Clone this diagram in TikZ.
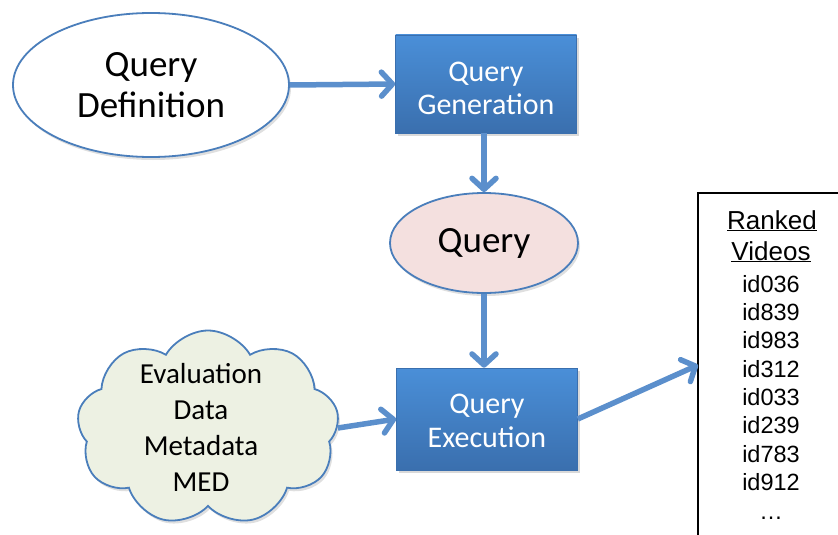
\documentclass[tikz,border=0pt]{standalone}
\usepackage{fontspec}
\setmainfont{Carlito}
\newfontfamily\arialf{Liberation Sans}
\usetikzlibrary{arrows.meta,shapes.geometric,shapes.symbols,shadows}
\definecolor{edgeblue}{HTML}{4A7EBB}
\definecolor{arrblue}{HTML}{5B8FCC}
\definecolor{boxtop}{HTML}{4A8FD8}
\definecolor{boxbot}{HTML}{3A6FAE}
\definecolor{pinkfill}{HTML}{F4E0DF}
\definecolor{greenfill}{HTML}{EDF1E3}
\newcommand{\ulhead}[1]{\underline{#1}}
\tikzset{
  flow/.style={draw=arrblue, line width=5.5pt, -{Straight Barb[length=11pt,width=24pt,round]}},
  procbox/.style={rectangle, draw=boxbot, line width=0.6pt, top color=boxtop, bottom color=boxbot,
    text=white, align=center, inner sep=0pt, font=\fontsize{30}{33}\selectfont,
    drop shadow={opacity=0.3, shadow xshift=2pt, shadow yshift=-3pt}},
  oval/.style={ellipse, draw=edgeblue, line width=1.8pt, inner sep=0pt, align=center,
    drop shadow={opacity=0.25, shadow xshift=2pt, shadow yshift=-3pt}},
  rlist/.style={font=\arialf\fontsize{23.5}{26}\selectfont, anchor=base},
  rhead/.style={font=\arialf\fontsize{26}{28}\selectfont, anchor=base}
}
\begin{document}
\begin{tikzpicture}[x=1pt,y=-1pt]
\useasboundingbox (0,0) rectangle (838,535);
% nodes
\node[oval, fill=white, minimum width=276pt, minimum height=144pt,
      font=\fontsize{37}{41}\selectfont] (def) at (151,85) {Query\\Definition};
\node[procbox, minimum width=181pt, minimum height=98pt] (gen) at (486,84) {};
\node[align=center, text=white, font=\fontsize{30}{33}\selectfont] (gentext) at (486,88) {Query\\Generation};
\node[oval, fill=pinkfill, minimum width=188pt, minimum height=100pt,
      font=\fontsize{37}{41}\selectfont] (q) at (484,243) {Query};
\node[procbox, minimum width=181pt, minimum height=102pt] (exe) at (487,419) {};
\node[align=center, text=white, font=\fontsize{30}{34}\selectfont] (exetext) at (487,421) {Query\\Execution};
\node[cloud, cloud puffs=9, cloud puff arc=120, aspect=1.33, draw=edgeblue, line width=1.8pt,
      fill=greenfill, minimum width=262pt, minimum height=195pt, inner sep=0pt,
      drop shadow={opacity=0.25, shadow xshift=2pt, shadow yshift=-3pt}] (cl) at (208,428) {};
\node[align=center, font=\fontsize{29}{36}\selectfont] (cltext) at (201,427) {Evaluation\\Data\\Metadata\\MED};
% ranked list box
\coordinate (rtl) at (698,193);
\coordinate (rbl) at (698,540);
\coordinate (rtr) at (840,193);
\coordinate (rin) at (698,365);
\draw[line width=1.5pt] (rbl) -- (rtl) -- (rtr);
\node[rhead] (rk1) at (772,229) {\ulhead{Ranked}};
\node[rhead] (rk2) at (771,260) {\ulhead{Videos}};
\node[rlist] (id1) at (771,292) {id036};
\node[rlist] (id2) at (771,320) {id839};
\node[rlist] (id3) at (771,348.5) {id983};
\node[rlist] (id4) at (771,377) {id312};
\node[rlist] (id5) at (771,405) {id033};
\node[rlist] (id6) at (771,433.5) {id239};
\node[rlist] (id7) at (771,462) {id783};
\node[rlist] (id8) at (771,490.5) {id912};
\node[rlist] (id9) at (771,519) {\dots};
% connectors
\draw[flow] (def.east) -- (gen.west);
\draw[flow] (gen.south -| q.north) -- (q.north);
\draw[flow] (q.south) -- (q.south |- exe.north);
\draw[flow] (cl.east) -- (exe.west);
\draw[flow] (exe.east) -- (rin);
\end{tikzpicture}
\end{document}
